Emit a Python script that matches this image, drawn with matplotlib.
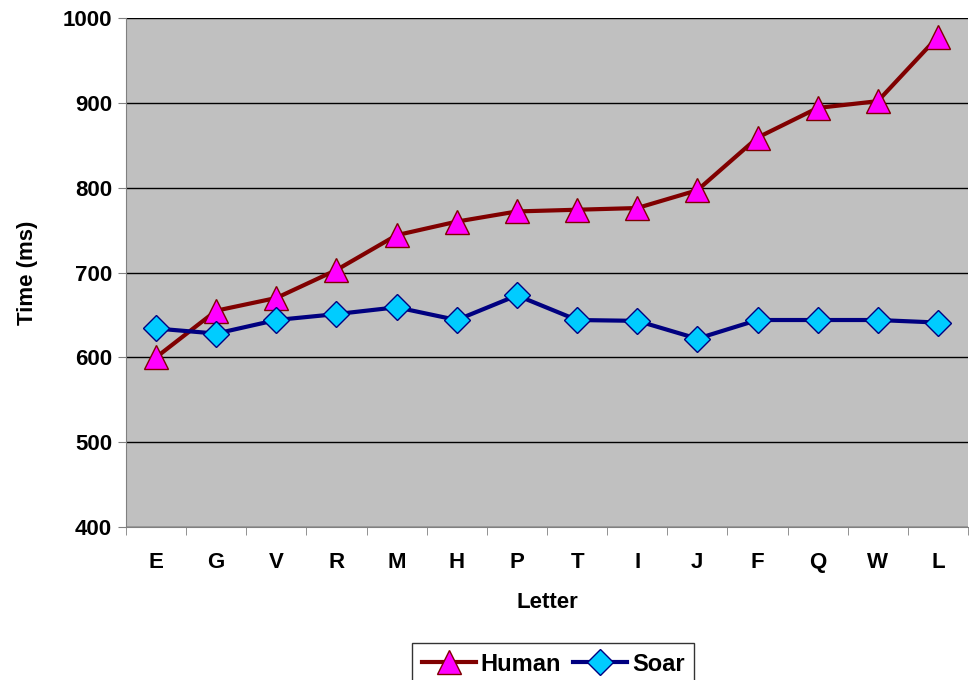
import matplotlib.pyplot as plt
import numpy as np

letters = ['E', 'G', 'V', 'R', 'M', 'H', 'P', 'T', 'I', 'J', 'F', 'Q', 'W', 'L']
human = [600, 655, 670, 703, 744, 760, 772, 774, 776, 797, 859, 894, 902, 978]
soar = [634, 628, 644, 651, 659, 644, 673, 644, 643, 622, 644, 644, 644, 641]

plt.rcParams['font.family'] = ['Liberation Sans', 'DejaVu Sans']
plt.rcParams['font.weight'] = 'bold'

fig = plt.figure(figsize=(9.69, 6.8), dpi=100)
ax = fig.add_axes([0.130, 0.225, 0.869, 0.7485])
ax.set_facecolor('#C0C0C0')

x = np.arange(len(letters))
ax.plot(x, human, color='#800000', lw=3, marker='^', ms=17,
        mfc='#FF00FF', mec='#800000', mew=1, label='Human', zorder=3)
ax.plot(x, soar, color='#000080', lw=3, marker='D', ms=13,
        mfc='#00CCFF', mec='#000080', mew=1, label='Soar', zorder=4)

ax.set_xlim(-0.5, len(letters) - 0.5)
ax.set_ylim(400, 1000)
ax.set_yticks(range(400, 1001, 100))
ax.set_xticks(x)
ax.set_xticklabels(letters)
ax.set_xticks(np.arange(-0.5, len(letters), 1), minor=True)
ax.tick_params(axis='x', which='major', length=0, pad=18, labelsize=16)
ax.tick_params(axis='x', which='minor', length=6, color='#808080')
ax.tick_params(axis='y', length=6, color='#808080', labelsize=16, pad=4)
ax.grid(axis='y', color='black', lw=1)
ax.set_axisbelow(True)
for s in ['top', 'right']:
    ax.spines[s].set_visible(False)
for s in ['left', 'bottom']:
    ax.spines[s].set_color('#808080')

ax.set_xlabel('Letter', fontsize=16, fontweight='bold', labelpad=14)
ax.set_ylabel('Time (ms)', fontsize=16, fontweight='bold', labelpad=18)

fig.legend(loc='upper center', bbox_to_anchor=(0.571, 0.054), ncol=2,
           fontsize=17, frameon=True, fancybox=False, edgecolor='black',
           handlelength=2.3, handletextpad=0.2, columnspacing=0.5,
           borderaxespad=0, borderpad=0.4)

fig.savefig('out.png', dpi=100)
